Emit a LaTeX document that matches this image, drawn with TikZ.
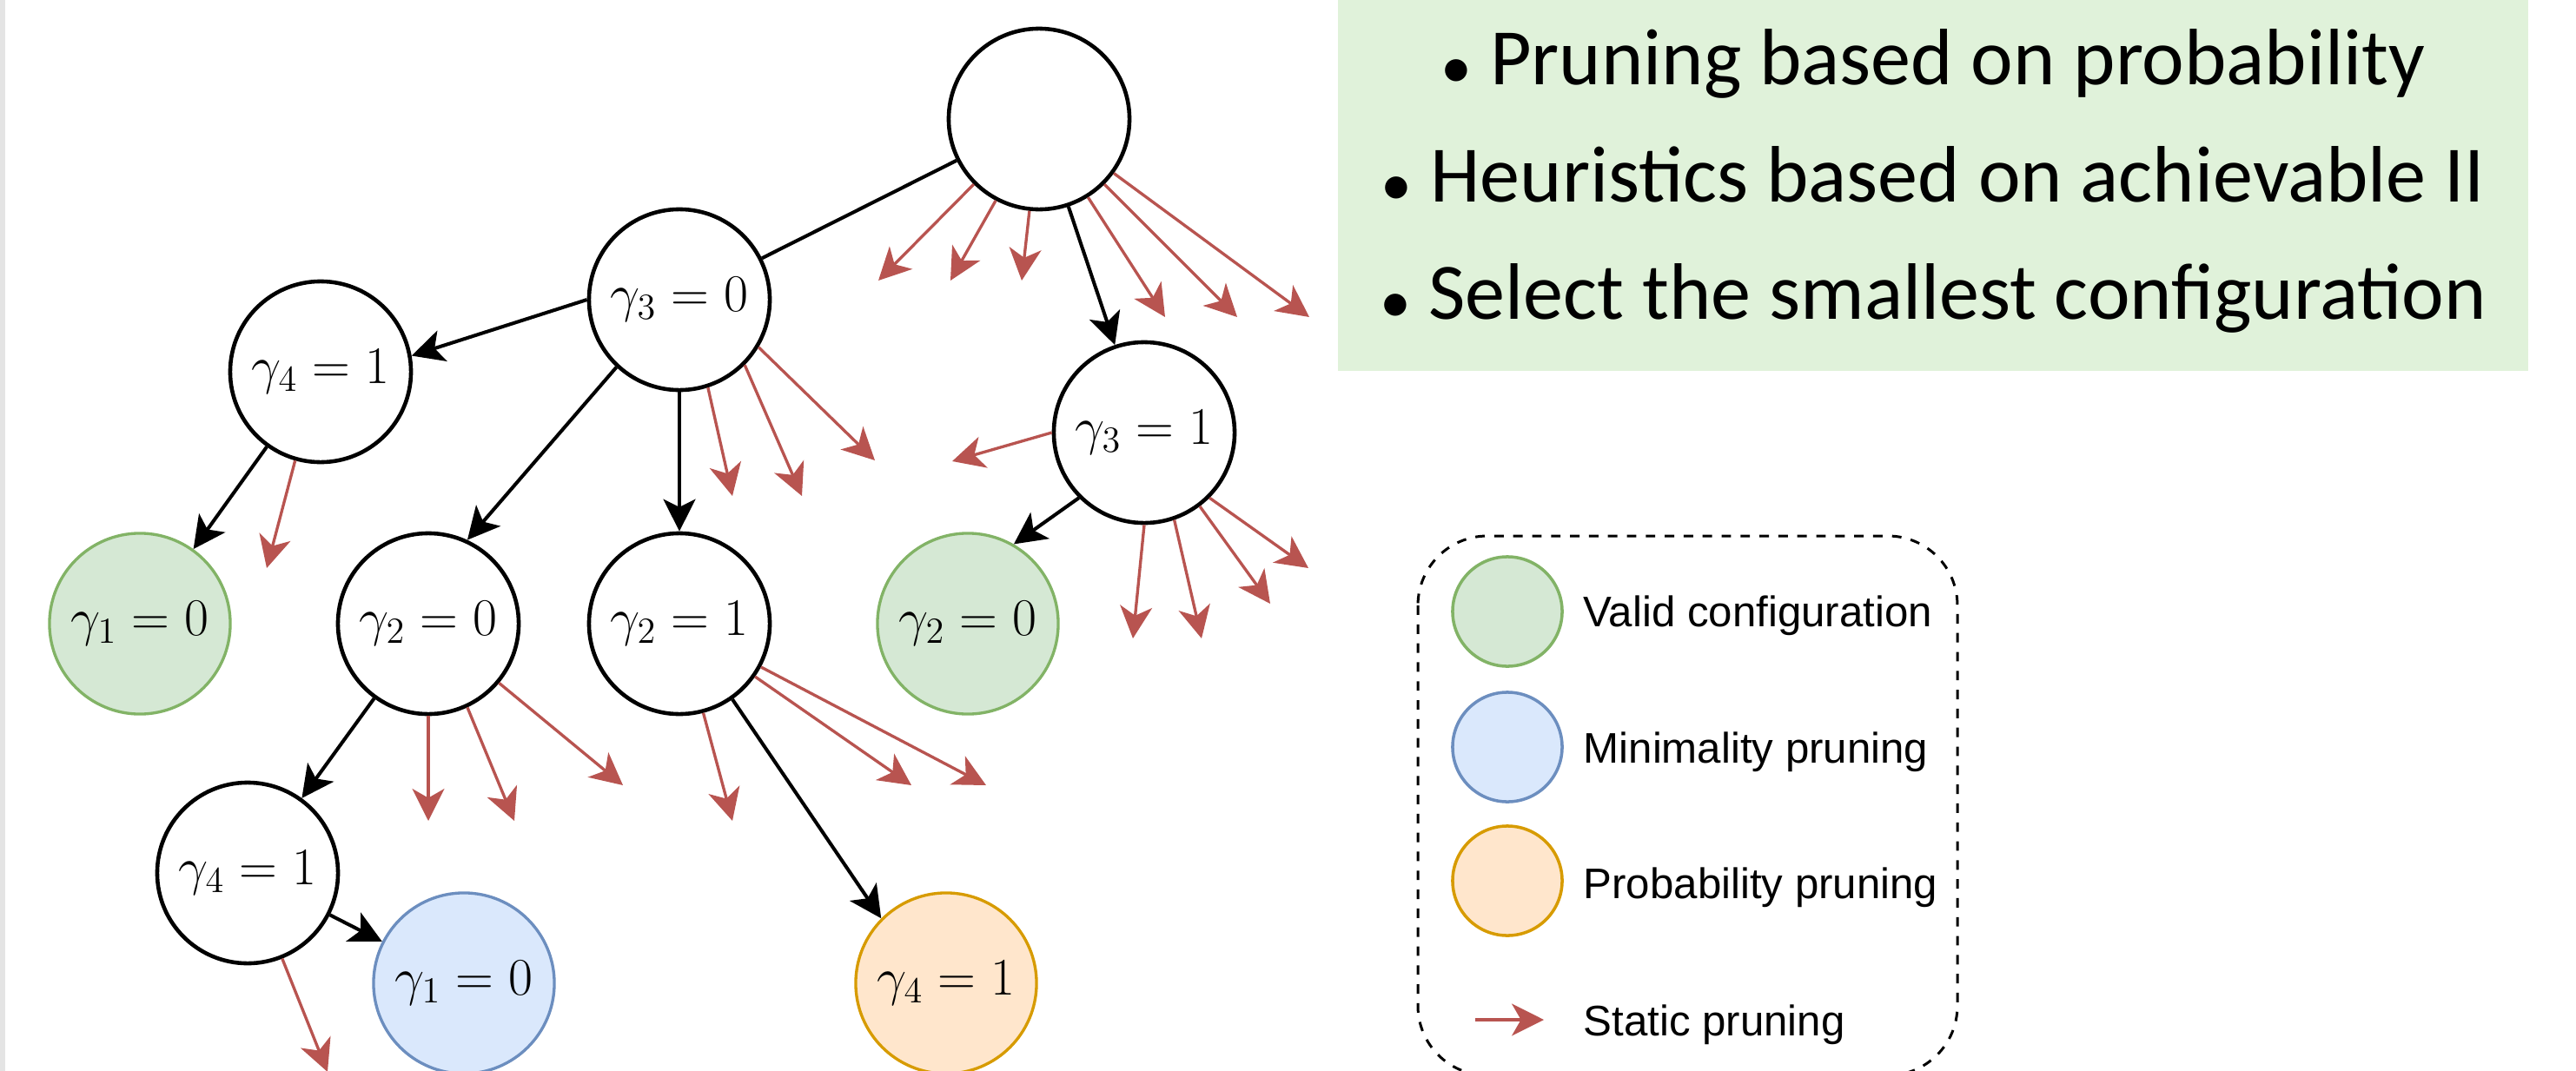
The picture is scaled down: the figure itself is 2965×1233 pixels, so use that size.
\documentclass[tikz,border=0pt]{standalone}
\usepackage{fontspec}
\usepackage{graphicx}
\newfontfamily\calfont{Carlito}
\newfontfamily\legfont{Liberation Sans}
\usetikzlibrary{arrows.meta}
\definecolor{redarr}{HTML}{B85450}
\definecolor{gfill}{HTML}{D5E8D4}
\definecolor{gdraw}{HTML}{82B366}
\definecolor{bfill}{HTML}{DAE8FC}
\definecolor{bdraw}{HTML}{6C8EBF}
\definecolor{ofill}{HTML}{FFE6CC}
\definecolor{odraw}{HTML}{D79B00}
\definecolor{boxgreen}{HTML}{E0F2DA}
\definecolor{stripgray}{HTML}{E4E4E4}
\newcommand{\smbullet}{\raisebox{-1.2pt}{\scalebox{0.78}{•}}}
\begin{document}
\begin{tikzpicture}[x=0.01cm,y=-0.01cm,
  tnode/.style={circle,draw=black,line width=1.3pt,fill=white,minimum size=2.08cm,inner sep=0pt,font=\fontsize{17.6pt}{20pt}\selectfont},
  validn/.style={tnode,draw=gdraw,fill=gfill,line width=0.95pt},
  minin/.style={tnode,draw=bdraw,fill=bfill,line width=0.95pt},
  probn/.style={tnode,draw=odraw,fill=ofill,line width=0.95pt},
  blk/.style={draw=black,line width=1.15pt,-{Stealth[length=10.5pt,width=10.5pt,inset=2.6pt]}},
  plainedge/.style={draw=black,line width=1.15pt},
  prunearr/.style={draw=redarr,line width=0.95pt,-{Stealth[length=10.5pt,width=10.5pt,inset=3pt]}},
  lgc/.style={circle,line width=1pt,minimum size=1.26cm,inner sep=0pt},
  lgt/.style={anchor=base west,inner sep=0pt,font=\legfont\fontsize{14pt}{16pt}\selectfont},
  bullettext/.style={anchor=base,inner sep=0pt,font=\calfont\fontsize{26.2pt}{30pt}\selectfont},
]
\useasboundingbox (0,0) rectangle (2965,1233);
\clip (0,0) rectangle (2965,1233);
\fill[stripgray] (0,0) rectangle (6,1233);

% green info box
\fill[boxgreen] (1540,-5) rectangle (2910,427);
\node[bullettext] (b1) at (2225,97) {\smbullet\ Pruning based on probability};
\node[bullettext] (b2) at (2225,232) {\smbullet\ Heuristics based on achievable II};
\node[bullettext] (b3) at (2225,367) {\smbullet\ Select the smallest configuration};

% tree nodes
\node[tnode] (root) at (1196,137) {};
\node[tnode] (g30) at (782,345) {$\gamma_3=0$};
\node[tnode] (g41) at (369,428) {$\gamma_4=1$};
\node[tnode] (g31) at (1317,498) {$\gamma_3=1$};
\node[validn] (g10) at (161,718) {$\gamma_1=0$};
\node[tnode] (g20) at (493,718) {$\gamma_2=0$};
\node[tnode] (g21) at (782,718) {$\gamma_2=1$};
\node[validn] (g20v) at (1114,718) {$\gamma_2=0$};
\node[tnode] (g42) at (285,1005) {$\gamma_4=1$};
\node[minin] (g10m) at (534,1132) {$\gamma_1=0$};
\node[probn] (g4p) at (1089,1132) {$\gamma_4=1$};

% free ends of static pruning arrows
\coordinate (r1) at (1011,323);
\coordinate (r2) at (1094,323);
\coordinate (r3) at (1176,323);
\coordinate (r4) at (1341,365);
\coordinate (r5) at (1424,365);
\coordinate (r6) at (1507,365);
\coordinate (a1) at (843,571);
\coordinate (a2) at (923,571);
\coordinate (a3) at (1007,530);
\coordinate (c0) at (1096,531);
\coordinate (c1) at (1304,735);
\coordinate (c2) at (1383,735);
\coordinate (c3) at (1462,695);
\coordinate (c4) at (1506,654);
\coordinate (d1) at (307,654);
\coordinate (e1) at (493,945);
\coordinate (e2) at (592,945);
\coordinate (e3) at (717,904);
\coordinate (f1) at (843,945);
\coordinate (f2) at (1049,904);
\coordinate (f3) at (1135,904);
\coordinate (h1) at (377,1234);

% black tree edges
\draw[plainedge] (root) -- (g30);
\draw[blk] (root) -- (g31);
\draw[blk] (g30.west) -- (g41.10);
\draw[blk] (g30.-133) -- (g20.65);
\draw[blk] (g30.south) -- (g21.north);
\draw[blk] (g41) -- (g10);
\draw[blk] (g31.-135) -- (g20v.60);
\draw[blk] (g20) -- (g42);
\draw[blk] (g21.-55) -- (g4p.135);
\draw[blk] (g42) -- (g10m);

% static pruning arrows
\draw[prunearr] (root.-135) -- (r1);
\draw[prunearr] (root.-118) -- (r2);
\draw[prunearr] (root.-96) -- (r3);
\draw[prunearr] (root.-58) -- (r4);
\draw[prunearr] (root.-45) -- (r5);
\draw[prunearr] (root.-36) -- (r6);
\draw[prunearr] (g30.-72) -- (a1);
\draw[prunearr] (g30.-45) -- (a2);
\draw[prunearr] (g30.-31) -- (a3);
\draw[prunearr] (g31.west) -- (c0);
\draw[prunearr] (g31.-90) -- (c1);
\draw[prunearr] (g31.-71) -- (c2);
\draw[prunearr] (g31.-53) -- (c3);
\draw[prunearr] (g31.-45) -- (c4);
\draw[prunearr] (g41.-106) -- (d1);
\draw[prunearr] (g20.-90) -- (e1);
\draw[prunearr] (g20.-65) -- (e2);
\draw[prunearr] (g20.-40) -- (e3);
\draw[prunearr] (g21.-75) -- (f1);
\draw[prunearr] (g21.-35) -- (f2);
\draw[prunearr] (g21.-28) -- (f3);
\draw[prunearr] (g42.-68) -- (h1);

% legend
\draw[line width=0.85pt,dash pattern=on 3.1pt off 3.1pt,rounded corners=0.8cm] (1632,617) rectangle (2253,1238);
\node[lgc,draw=gdraw,fill=gfill] (lv) at (1735,704) {};
\node[lgc,draw=bdraw,fill=bfill] (lm) at (1735,860) {};
\node[lgc,draw=odraw,fill=ofill] (lp) at (1735,1014) {};
\node[lgt] (lvt) at (1822,721) {Valid configuration};
\node[lgt] (lmt) at (1822,878) {Minimality pruning};
\node[lgt] (lpt) at (1822,1034) {Probability pruning};
\coordinate (ls1) at (1698,1174);
\coordinate (ls2) at (1777,1174);
\draw[prunearr] (ls1) -- (ls2);
\node[lgt] (lst) at (1822,1192) {Static pruning};
\end{tikzpicture}
\end{document}
